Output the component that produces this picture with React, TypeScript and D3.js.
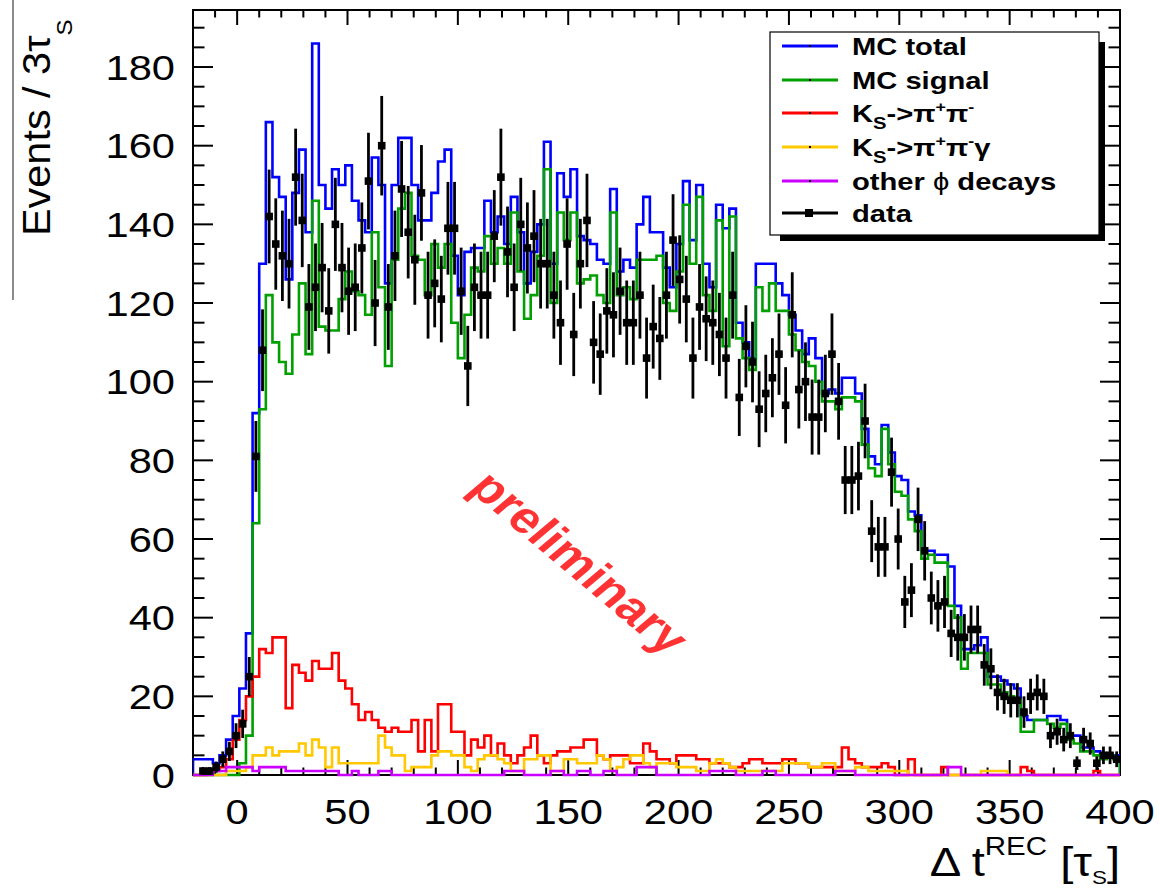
import React from "react";
import * as d3 from "d3";

// ---------------- data (bins of 3 tau_S from -20 to 400) ----------------
const BIN_LOW = -20;
const BIN_WIDTH = 3;

const mcTotal = [
  4, 4, 4, 3, 5, 9, 15, 22, 36, 92,
  130, 166, 152, 147, 126, 148, 159, 138, 186, 150,
  144, 154, 150, 155, 146, 141, 138, 157, 150, 125,
  150, 162, 162, 150, 141, 141, 148, 156, 159, 132,
  122, 133, 134, 134, 146, 138, 142, 135, 147, 138,
  125, 133, 140, 161, 130, 153, 147, 154, 137, 136,
  135, 131, 130, 149, 128, 131, 129, 140, 147, 138,
  138, 129, 124, 135, 151, 136, 150, 130, 124, 145,
  139, 144, 115, 110, 106, 130, 130, 130, 125, 122,
  117, 113, 107, 111, 106, 97, 98, 97, 101, 101,
  97, 88, 81, 79, 89, 82, 76, 75, 67, 66,
  57, 57, 56, 56, 53, 43, 32, 32, 33, 35,
  25, 25, 24, 23, 22, 15, 14, 14, 14, 15,
  15, 14, 10, 10, 7, 7, 6, 5, 5, 5,
];

const mcSignal = [
  0, 0, 0, 0, 0, 0, 0, 3, 10, 64,
  93, 122, 110, 105, 102, 112, 125, 107, 146, 114,
  113, 113, 121, 128, 123, 122, 117, 138, 124, 104,
  131, 144, 148, 132, 131, 122, 135, 129, 135, 115,
  106, 117, 129, 128, 137, 130, 134, 130, 143, 128,
  116, 122, 132, 154, 120, 143, 136, 143, 125, 126,
  127, 122, 120, 143, 122, 124, 121, 131, 131, 131,
  132, 120, 118, 128, 145, 130, 147, 122, 118, 141,
  109, 142, 111, 106, 103, 124, 118, 125, 118, 118,
  112, 108, 105, 104, 100, 95, 95, 93, 96, 96,
  95, 84, 78, 76, 88, 79, 72, 71, 65, 62,
  55, 56, 54, 54, 43, 40, 27, 31, 31, 31,
  23, 23, 21, 20, 19, 11, 11, 14, 14, 13,
  12, 13, 9, 8, 6, 6, 5, 4, 5, 4,
];

const ksPiPi = [
  0, 0, 1, 1, 2, 4, 9, 14, 20, 25,
  32, 31, 35, 35, 17, 28, 26, 24, 29, 27,
  27, 31, 24, 22, 18, 14, 16, 14, 12, 11,
  12, 11, 11, 14, 6, 14, 6, 18, 18, 11,
  11, 5, 9, 7, 10, 5, 8, 5, 3, 5,
  7, 10, 5, 3, 5, 6, 6, 7, 7, 9,
  9, 5, 4, 5, 5, 5, 3, 3, 8, 6,
  4, 4, 3, 5, 5, 5, 4, 4, 3, 3,
  3, 2, 2, 3, 4, 4, 3, 3, 3, 4,
  4, 3, 3, 2, 2, 2, 2, 2, 7, 4,
  3, 2, 2, 2, 3, 2, 0, 0, 4, 0,
  0, 0, 0, 2, 0, 0, 0, 0, 0, 0,
  0, 0, 0, 0, 0, 2, 1, 0, 0, 0,
  0, 0, 0, 0, 0, 0, 1, 0, 0, 0,
];

const ksPiPiGamma = [
  0, 0, 0, 0, 0, 1, 1, 1, 2, 5,
  5, 7, 5, 6, 6, 6, 8, 5, 9, 7,
  2, 7, 3, 3, 3, 3, 3, 3, 10, 7,
  5, 5, 1, 2, 2, 2, 5, 6, 6, 5,
  5, 2, 1, 4, 5, 5, 4, 3, 1, 1,
  4, 4, 5, 5, 1, 1, 4, 4, 3, 3,
  3, 5, 4, 1, 2, 4, 5, 5, 3, 2,
  3, 3, 3, 2, 2, 2, 1, 1, 3, 4,
  3, 2, 1, 1, 1, 1, 1, 1, 1, 3,
  3, 3, 3, 2, 2, 3, 3, 1, 1, 1,
  2, 2, 1, 1, 1, 1, 1, 1, 0, 0,
  0, 0, 0, 0, 0, 0, 0, 0, 0, 1,
  1, 1, 1, 0, 0, 0, 0, 0, 0, 0,
  0, 0, 0, 0, 0, 0, 0, 0, 0, 0,
];

const otherPhi = [
  0, 0, 0, 1, 1, 2, 2, 2, 2, 1,
  2, 2, 2, 2, 1, 1, 1, 1, 1, 1,
  1, 1, 0, 0, 1, 0, 0, 0, 1, 1,
  0, 0, 0, 0, 0, 0, 0, 0, 0, 0,
  0, 0, 0, 0, 0, 0, 0, 1, 1, 1,
  0, 0, 0, 0, 1, 1, 0, 0, 1, 1,
  0, 0, 1, 1, 0, 0, 0, 2, 2, 2,
  0, 0, 0, 0, 0, 0, 0, 0, 1, 1,
  1, 1, 0, 0, 0, 0, 1, 1, 0, 0,
  0, 0, 0, 0, 0, 0, 0, 1, 1, 1,
  0, 0, 0, 0, 0, 0, 0, 0, 0, 0,
  0, 0, 0, 0, 2, 2, 0, 0, 0, 0,
  0, 0, 0, 0, 0, 0, 0, 0, 0, 0,
  0, 0, 0, 0, 0, 0, 0, 0, 0, 0,
];

const dataCounts = [
  0, 1, 1, 2, 4, 6, 10, 13, 25, 81,
  108, 142, 135, 132, 130, 152, 141, 119, 124, 129,
  118, 140, 129, 123, 124, 134, 151, 120, 160, 119,
  132, 149, 138, 131, 148, 122, 125, 121, 139, 139,
  123, 104, 124, 122, 122, 137, 152, 133, 124, 140,
  134, 137, 130, 130, 122, 115, 135, 112, 130, 141,
  110, 107, 118, 117, 123, 115, 115, 122, 106, 114,
  111, 122, 136, 126, 121, 106, 119, 116, 115, 112,
  106, 122, 96, 109, 105, 93, 97, 101, 107, 94,
  117, 98, 100, 91, 91, 97, 107, 95, 75, 75,
  76, 90, 62, 58, 58, 77, 60, 44, 47, 65,
  57, 45, 43, 44, 36, 35, 35, 37, 37, 28,
  27, 21, 20, 19, 19, 16, 20, 21, 20, 10,
  11, 9, 10, 3, 9, 8, 3, 5, 5, 4,
];

const xMajorTicks = [0, 50, 100, 150, 200, 250, 300, 350, 400];
const yMajorTicks = [0, 20, 40, 60, 80, 100, 120, 140, 160, 180];

const COLORS = {
  total: "#0000ff",
  signal: "#00a000",
  pipi: "#ff0000",
  pipigamma: "#ffc800",
  other: "#cc00ff",
  data: "#000000",
};

const FONT = "'Liberation Sans', Arial, Helvetica, sans-serif";
const SX = 1.19; // horizontal stretch of the original picture

export default function App() {
  const frame = { left: 193, right: 1120, top: 10, bottom: 775 };
  const x = d3.scaleLinear().domain([-20, 400]).range([frame.left, frame.right]);
  const y = d3.scaleLinear().domain([0, 194.5]).range([frame.bottom, frame.top]);

  const nBins = mcTotal.length;
  const edges = d3.range(nBins + 1).map((i) => BIN_LOW + i * BIN_WIDTH);

  const stepLine = d3
    .line<[number, number]>()
    .x((d) => x(d[0]))
    .y((d) => y(d[1]))
    .curve(d3.curveStepAfter);

  const histPath = (vals: number[]) => {
    const pts: [number, number][] = [[edges[0], 0]];
    vals.forEach((v, i) => pts.push([edges[i], v]));
    pts.push([edges[vals.length], vals[vals.length - 1]]);
    pts.push([edges[vals.length], 0]);
    return stepLine(pts) || "";
  };

  const xMinor = d3.range(-10, 400, 10).filter((v) => v % 50 !== 0);
  const yMinor = d3.range(5, 194, 5).filter((v) => v % 20 !== 0);

  const hists = [
    { vals: mcTotal, color: COLORS.total },
    { vals: mcSignal, color: COLORS.signal },
    { vals: ksPiPi, color: COLORS.pipi },
    { vals: ksPiPiGamma, color: COLORS.pipigamma },
    { vals: otherPhi, color: COLORS.other },
  ];

  const legendX0 = 770;
  const legendY0 = 32;
  const legendW = 329;
  const legendH = 203;
  const rowYs = [46, 80, 113, 147, 181, 213];
  const legendColors = [
    COLORS.total,
    COLORS.signal,
    COLORS.pipi,
    COLORS.pipigamma,
    COLORS.other,
    COLORS.data,
  ];

  const legendText = (i: number) => {
    switch (i) {
      case 0:
        return "MC total";
      case 1:
        return "MC signal";
      case 2:
        return (
          <>
            K<tspan fontSize={17} dy={7}>S</tspan>
            <tspan dy={-7}>-&gt;π</tspan>
            <tspan fontSize={15} dy={-10}>+</tspan>
            <tspan dy={10}>π</tspan>
            <tspan fontSize={15} dy={-10}>-</tspan>
          </>
        );
      case 3:
        return (
          <>
            K<tspan fontSize={17} dy={7}>S</tspan>
            <tspan dy={-7}>-&gt;π</tspan>
            <tspan fontSize={15} dy={-10}>+</tspan>
            <tspan dy={10}>π</tspan>
            <tspan fontSize={15} dy={-10}>-</tspan>
            <tspan dy={10}>γ</tspan>
          </>
        );
      case 4:
        return (
          <>
            other <tspan fontWeight="normal">ϕ</tspan> decays
          </>
        );
      default:
        return "data";
    }
  };

  return (
    <svg
      width={1160}
      height={890}
      style={{ position: "absolute", left: 0, top: 0, background: "#fff" }}
      fontFamily={FONT}
    >
      <defs>
        <clipPath id="plotClip">
          <rect
            x={frame.left}
            y={frame.top}
            width={frame.right - frame.left}
            height={frame.bottom - frame.top + 2}
          />
        </clipPath>
      </defs>
      <rect x={0} y={0} width={1160} height={890} fill="#fff" />

      {/* stray crop line at left */}
      <line x1={13} y1={0} x2={13} y2={300} stroke="#666" strokeWidth={1.5} />

      {/* frame */}
      <rect
        x={frame.left}
        y={frame.top}
        width={frame.right - frame.left}
        height={frame.bottom - frame.top}
        fill="none"
        stroke="#000"
        strokeWidth={2}
      />

      {/* y ticks left & right */}
      {yMajorTicks.map((v) => (
        <g key={"ym" + v}>
          <line x1={frame.left} x2={frame.left + 20} y1={y(v)} y2={y(v)} stroke="#000" strokeWidth={2} />
          <line x1={frame.right} x2={frame.right - 20} y1={y(v)} y2={y(v)} stroke="#000" strokeWidth={2} />
          <text
            transform={`translate(175,${y(v)}) scale(${SX},1)`}
            textAnchor="end"
            dy="0.36em"
            fontSize={35}
            fill="#000"
          >
            {v}
          </text>
        </g>
      ))}
      {yMinor.map((v) => (
        <g key={"yn" + v}>
          <line x1={frame.left} x2={frame.left + 11.5} y1={y(v)} y2={y(v)} stroke="#000" strokeWidth={2} />
          <line x1={frame.right} x2={frame.right - 11.5} y1={y(v)} y2={y(v)} stroke="#000" strokeWidth={2} />
        </g>
      ))}

      {/* x ticks bottom & top */}
      {xMajorTicks.map((v) => (
        <g key={"xm" + v}>
          <line x1={x(v)} x2={x(v)} y1={frame.bottom} y2={frame.bottom - 15} stroke="#000" strokeWidth={2} />
          <line x1={x(v)} x2={x(v)} y1={frame.top} y2={frame.top + 15} stroke="#000" strokeWidth={2} />
          <text
            transform={`translate(${x(v)},823.5) scale(${SX},1)`}
            textAnchor="middle"
            fontSize={35}
            fill="#000"
          >
            {v}
          </text>
        </g>
      ))}
      {xMinor.map((v) => (
        <g key={"xn" + v}>
          <line x1={x(v)} x2={x(v)} y1={frame.bottom} y2={frame.bottom - 7.5} stroke="#000" strokeWidth={2} />
          <line x1={x(v)} x2={x(v)} y1={frame.top} y2={frame.top + 7.5} stroke="#000" strokeWidth={2} />
        </g>
      ))}

      {/* axis titles */}
      <text
        transform={`translate(1120,876) scale(1.18,1)`}
        textAnchor="end"
        fontSize={40}
        fill="#000"
      >
        Δ t<tspan fontSize={25} dy={-21}>REC</tspan>
        <tspan dy={21}> [τ</tspan>
        <tspan fontSize={19} dy={8}>S</tspan>
        <tspan dy={-8}>]</tspan>
      </text>
      <text
        transform={`translate(50,236) rotate(-90) scale(1.09,1)`}
        fontSize={38}
        fill="#000"
      >
        Events / 3τ<tspan fontSize={22} dy={22}>S</tspan>
      </text>

      {/* histograms */}
      <g clipPath="url(#plotClip)">
        {hists.map((h, i) => (
          <path
            key={"h" + i}
            d={histPath(h.vals)}
            fill="none"
            stroke={h.color}
            strokeWidth={2.6}
            strokeLinejoin="miter"
          />
        ))}

        {/* data points */}
        {dataCounts.map((n, i) => {
          if (n <= 0) return null;
          const cx = x(edges[i] + BIN_WIDTH / 2);
          const err = Math.sqrt(n);
          return (
            <g key={"d" + i}>
              <line x1={cx} x2={cx} y1={y(n - err)} y2={y(n + err)} stroke="#000" strokeWidth={2.8} />
              <line x1={x(edges[i])} x2={x(edges[i + 1])} y1={y(n)} y2={y(n)} stroke="#000" strokeWidth={2.8} />
              <rect x={cx - 3.8} y={y(n) - 3.8} width={7.6} height={7.6} fill="#000" />
            </g>
          );
        })}
      </g>

      {/* legend */}
      <rect x={legendX0 + 10} y={legendY0 + 10} width={legendW - 4} height={legendH - 4} fill="#000" />
      <rect x={legendX0} y={legendY0} width={legendW} height={legendH} fill="#fff" stroke="#000" strokeWidth={1.2} />
      {rowYs.map((ry, i) => (
        <g key={"lg" + i}>
          <line x1={782} x2={838} y1={ry} y2={ry} stroke={legendColors[i]} strokeWidth={3} />
          {i < 5 ? (
            <rect x={809} y={ry - 1} width={2} height={2} fill="#000" />
          ) : (
            <rect x={805} y={ry - 4} width={8} height={8} fill="#000" />
          )}
          <text
            transform={`translate(852,${ry + 8.5}) scale(${SX},1)`}
            fontSize={24.5}
            fontWeight="bold"
            fill="#000"
          >
            {legendText(i)}
          </text>
        </g>
      ))}

      {/* preliminary stamp */}
      <text
        transform="translate(577,565) scale(1.19,1) rotate(45)"
        textAnchor="middle"
        dy="0.26em"
        fontSize={44}
        fontWeight="bold"
        fill="#ff3333"
      >
        preliminary
      </text>
    </svg>
  );
}
